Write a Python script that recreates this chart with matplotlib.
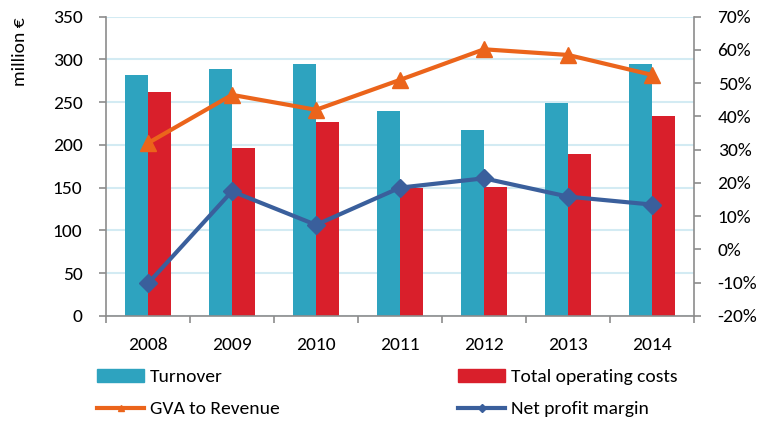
import matplotlib
matplotlib.use("Agg")
import matplotlib.pyplot as plt
import numpy as np
from matplotlib.patches import Patch
from matplotlib.lines import Line2D

years = ["2008", "2009", "2010", "2011", "2012", "2013", "2014"]
turnover = [282, 289, 295, 240, 218, 249, 295]
op_costs = [262, 197, 227, 150, 151, 190, 234]
gva_to_revenue = [32.0, 46.5, 42.0, 51.0, 60.2, 58.5, 52.5]
net_profit_margin = [-10.2, 17.5, 7.4, 18.6, 21.4, 15.9, 13.5]

left_ticks = [0, 50, 100, 150, 200, 250, 300, 350]
right_ticks = [-20, -10, 0, 10, 20, 30, 40, 50, 60, 70]

C_TURN = "#2ea3bf"
C_COST = "#d91f2b"
C_GVA = "#eb641b"
C_NPM = "#3a5f9c"
C_GRID = "#d3ebf3"
C_SPINE = "#8c8c8c"

plt.rcParams['font.family'] = ['Carlito', 'DejaVu Sans']
FS = 14

fig = plt.figure(figsize=(7.57, 4.21), dpi=100)
ax = fig.add_axes([106/757, 1-316/421, (694-106)/757, (316-16.7)/421])
x = np.arange(len(years))
w = 0.27
ax.bar(x - w/2, turnover, w, color=C_TURN, zorder=2)
ax.bar(x + w/2, op_costs, w, color=C_COST, zorder=2)
ax.set_xlim(-0.5, len(years) - 0.5)
ax.set_ylim(0, 350)
ax.set_yticks(left_ticks)
ax.yaxis.grid(True, color=C_GRID, lw=1.5)
ax.set_axisbelow(True)
ax.set_xticks(x)
ax.set_xticklabels(years)
ax.set_xticks(np.arange(-0.5, len(years), 1), minor=True)
ax.tick_params(axis='x', which='major', length=0, pad=15, labelsize=FS)
ax.tick_params(axis='x', which='minor', length=5, color=C_SPINE, width=1.2)
ax.tick_params(axis='y', length=5, color=C_SPINE, width=1.2, pad=12, labelsize=FS)
for s in ['top', 'right']:
    ax.spines[s].set_visible(False)
for s in ['left', 'bottom']:
    ax.spines[s].set_color(C_SPINE)
    ax.spines[s].set_linewidth(1.2)

ax2 = ax.twinx()
ax2.plot(x, gva_to_revenue, color=C_GVA, lw=3, marker='^', ms=12, zorder=3)
ax2.plot(x, net_profit_margin, color=C_NPM, lw=3, marker='D', ms=9, zorder=3)
ax2.set_ylim(-20, 70)
ax2.set_yticks(right_ticks)
ax2.set_yticklabels([f"{v}%" for v in right_ticks])
ax2.tick_params(axis='y', length=5, color=C_SPINE, width=1.2, pad=12, labelsize=FS)
for s in ['top', 'left', 'bottom']:
    ax2.spines[s].set_visible(False)
ax2.spines['right'].set_color(C_SPINE)
ax2.spines['right'].set_linewidth(1.2)

fig.text(20/757, 1-52/421, "million €", rotation=90, ha='center', va='center', fontsize=FS)

h1 = [Patch(color=C_TURN), Line2D([], [], color=C_GVA, lw=3, marker='^', ms=5)]
h2 = [Patch(color=C_COST), Line2D([], [], color=C_NPM, lw=3, marker='D', ms=4)]
kw = dict(frameon=False, fontsize=FS, handlelength=2.42, handleheight=0.62,
          handletextpad=0.31, labelspacing=0.82, borderpad=0, borderaxespad=0)
leg1 = fig.legend(h1, ["Turnover", "GVA to Revenue"], loc='upper left',
                  bbox_to_anchor=(97/757, 1-369/421), **kw)
leg2 = fig.legend(h2, ["Total operating costs", "Net profit margin"], loc='upper left',
                  bbox_to_anchor=(458/757, 1-369/421), **kw)

fig.savefig("out.png", dpi=100)
